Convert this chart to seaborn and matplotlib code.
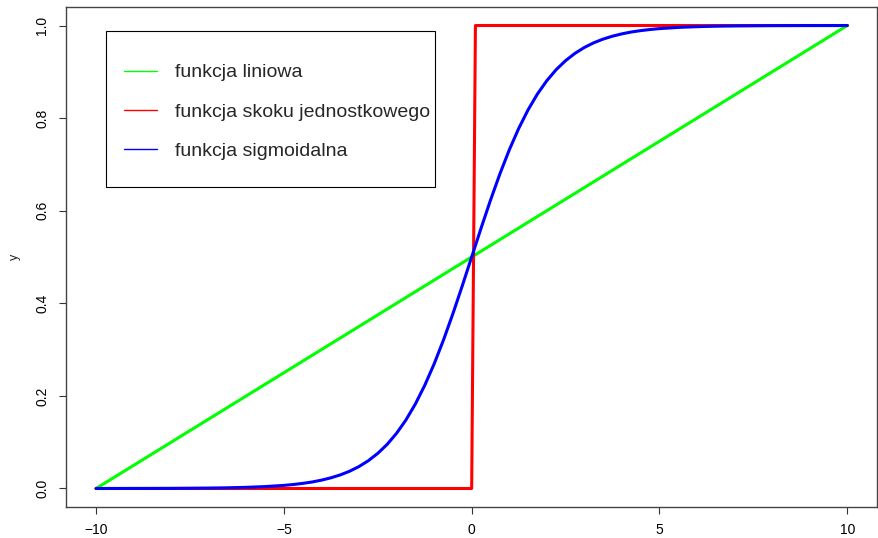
import numpy as np
import pandas as pd
import matplotlib
matplotlib.use("Agg")
import matplotlib.pyplot as plt
from matplotlib.lines import Line2D
from matplotlib.patches import Rectangle
import seaborn as sns

# values
lin_x = [-10, 10]
lin_y = [0.0, 1.0]

step_x = [-10, 0.0, 0.1, 10]
step_y = [0.0, 0.0, 1.0, 1.0]

sig_x = [-10, -9, -8, -7.5, -7, -6.5, -6, -5.5, -5, -4.75, -4.5, -4.25, -4, -3.75,
         -3.5, -3.25, -3, -2.75, -2.5, -2.25, -2, -1.75, -1.5, -1.25, -1, -0.75,
         -0.5, -0.25, 0,
         0.25, 0.5, 0.75, 1, 1.25, 1.5, 1.75, 2, 2.25, 2.5, 2.75, 3, 3.25, 3.5,
         3.75, 4, 4.25, 4.5, 4.75, 5, 5.5, 6, 6.5, 7, 7.5, 8, 9, 10]
sig_y = [0.0000, 0.0001, 0.0003, 0.0006, 0.0009, 0.0015, 0.0025, 0.0041, 0.0067,
         0.0086, 0.0110, 0.0140, 0.0180, 0.0230, 0.0293, 0.0373, 0.0474, 0.0601,
         0.0759, 0.0953, 0.1192, 0.1480, 0.1824, 0.2227, 0.2689, 0.3208, 0.3775,
         0.4378, 0.5000,
         0.5622, 0.6225, 0.6792, 0.7311, 0.7773, 0.8176, 0.8520, 0.8808, 0.9047,
         0.9241, 0.9399, 0.9526, 0.9627, 0.9707, 0.9770, 0.9820, 0.9860, 0.9890,
         0.9914, 0.9933, 0.9959, 0.9975, 0.9985, 0.9991, 0.9994, 0.9997, 0.9999,
         1.0000]

labels = ["funkcja liniowa", "funkcja skoku jednostkowego", "funkcja sigmoidalna"]
colors = ["#00ff00", "#ff0000", "#0000ff"]

sns.set_style("white")
plt.rcParams['font.family'] = ['Liberation Sans', 'DejaVu Sans']

fig = plt.figure(figsize=(8.79, 5.38), dpi=100)
ax = fig.add_axes([0.0751, 0.0576, 0.923, 0.9294])

lw = 2.2
sns.lineplot(x=lin_x, y=lin_y, ax=ax, color=colors[0], lw=lw, estimator=None, sort=False)
sns.lineplot(x=step_x, y=step_y, ax=ax, color=colors[1], lw=lw, estimator=None, sort=False)
sns.lineplot(x=sig_x, y=sig_y, ax=ax, color=colors[2], lw=lw, estimator=None, sort=False)

ax.set_xlim(-10.8, 10.8)
ax.set_ylim(-0.04, 1.04)
ax.set_xticks([-10, -5, 0, 5, 10])
ax.set_xticklabels(["\u221210", "\u22125", "0", "5", "10"])
ax.set_yticks([0.0, 0.2, 0.4, 0.6, 0.8, 1.0])
ax.set_yticklabels(["0.0", "0.2", "0.4", "0.6", "0.8", "1.0"], rotation=90, va="center")
ax.tick_params(axis="both", direction="out", length=5, width=0.8, color="#333333",
               labelsize=10, labelcolor="black", bottom=True, left=True)
ax.tick_params(axis="x", pad=6.5)
ax.tick_params(axis="y", pad=7.2)
for s in ax.spines.values():
    s.set_color("#444444")
    s.set_linewidth(1.0)
ax.set_xlabel("")
ax.set_ylabel("y", fontsize=9, labelpad=10)

# legend box drawn separately, as in the base-R original
fig.add_artist(Rectangle((0.1206, 0.6524), 0.3743, 0.29, transform=fig.transFigure,
                         fill=False, edgecolor="black", lw=0.8))
handles = [Line2D([0], [0], color=c, lw=1) for c in colors]
fig.legend(handles, labels, loc="upper left", bbox_to_anchor=(0.1411, 0.8815),
           fontsize=14, frameon=False, handlelength=1.72, handletextpad=0.9,
           labelspacing=1.12, borderpad=0, borderaxespad=0)

fig.savefig("out.png", dpi=100)
